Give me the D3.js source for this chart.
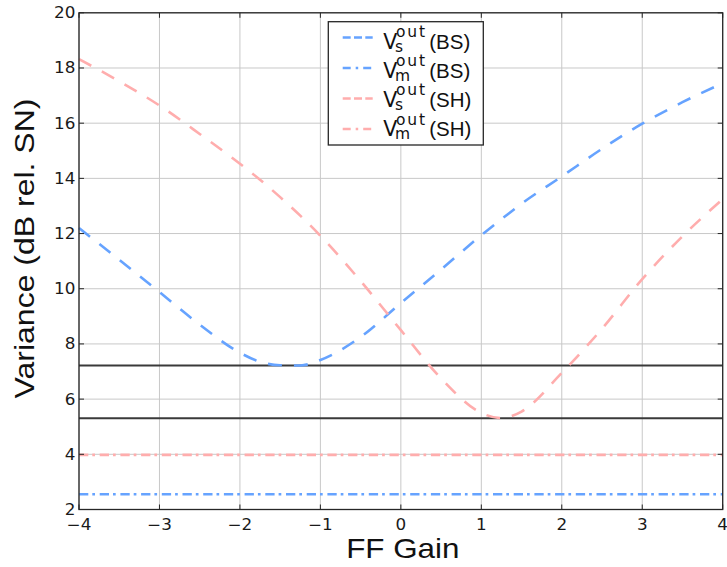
<!DOCTYPE html>
<html>
<head>
<meta charset="utf-8">
<script src="https://cdn.jsdelivr.net/npm/d3@7"></script>
<style>
body { margin: 0; background: #fff; }
svg { display: block; }
</style>
</head>
<body>
<div id="chart"></div>
<script>
// values
var gain = [-4, -3.5, -3, -2.5, -2, -1.75, -1.5, -1.25, -1, -0.5, 0, 0.5, 1, 1.25, 1.5, 2, 2.5, 3, 3.5, 4];
var vsBS = [12.2, 11.05, 9.88, 8.7, 7.68, 7.35, 7.23, 7.22, 7.42, 8.25, 9.48, 10.7, 11.94, 12.52, 13.08, 14.07, 15.07, 15.98, 16.76, 17.45];
var vsSH = [18.32, 17.52, 16.64, 15.61, 14.53, 13.95, 13.32, 12.65, 11.92, 10.28, 8.5, 6.75, 5.5, 5.31, 5.55, 6.95, 8.55, 10.35, 11.9, 13.25];
var vmBS = 2.55;
var vmSH = 3.98;
var minLevels = [7.22, 5.31];

var xTicks = [-4, -3, -2, -1, 0, 1, 2, 3, 4];
var yTicks = [2, 4, 6, 8, 10, 12, 14, 16, 18, 20];

var legendSubs = ["s", "m", "s", "m"];
var legendTags = ["(BS)", "(BS)", "(SH)", "(SH)"];

var width = 727,
	height = 567,
	LEFT = 79,
	RIGHT = 722.7,
	TOP = 12.8,
	BOTTOM = 509.5,
	BLUE = "#66a3ff",
	PINK = "#ffadad",
	DARK = "#262626",
	DASH = "14,12",
	DASHDOT = "9.3,4,2.7,4.7",
	WIDEN = 1.12;

var svg = d3.select("#chart").append("svg")
	.attr("width", width)
	.attr("height", height);

var x = d3.scaleLinear().domain([-4, 4]).range([LEFT, RIGHT]);
var y = d3.scaleLinear().domain([2, 20]).range([BOTTOM, TOP]);

// the figure's text is a bit wider than the fonts we have
var widen = function(sel, k) {
	sel.each(function() {
		var w = this.getComputedTextLength();
		this.setAttribute("textLength", w * k);
		this.setAttribute("lengthAdjust", "spacingAndGlyphs");
	});
};

// grid
var grid = svg.append("g").attr("id", "grid");

grid.selectAll(".vgrid")
	.data(xTicks)
	.enter()
	.append("line")
	.attr("x1", function(d) { return x(d); })
	.attr("x2", function(d) { return x(d); })
	.attr("y1", TOP)
	.attr("y2", BOTTOM)
	.style("stroke", "#c8c8c8")
	.style("stroke-width", 1);

grid.selectAll(".hgrid")
	.data(yTicks)
	.enter()
	.append("line")
	.attr("x1", LEFT)
	.attr("x2", RIGHT)
	.attr("y1", function(d) { return y(d); })
	.attr("y2", function(d) { return y(d); })
	.style("stroke", "#c8c8c8")
	.style("stroke-width", 1);

// minimum levels
svg.selectAll(".minlevel")
	.data(minLevels)
	.enter()
	.append("line")
	.attr("x1", LEFT)
	.attr("x2", RIGHT)
	.attr("y1", function(d) { return y(d); })
	.attr("y2", function(d) { return y(d); })
	.style("stroke", "#3a3a3a")
	.style("stroke-width", 2);

// flat measured-variance lines
var flat = [
	{ value: vmBS, color: BLUE },
	{ value: vmSH, color: PINK }
];

svg.selectAll(".flat")
	.data(flat)
	.enter()
	.append("line")
	.attr("x1", x(-4))
	.attr("x2", x(4))
	.attr("y1", function(d) { return y(d.value); })
	.attr("y2", function(d) { return y(d.value); })
	.style("stroke", function(d) { return d.color; })
	.style("stroke-width", 2.6)
	.style("stroke-dasharray", DASHDOT);

// the two swept curves
var line = d3.line()
	.x(function(d) { return x(d[0]); })
	.y(function(d) { return y(d[1]); })
	.curve(d3.curveMonotoneX);

var curves = [
	{ values: vsBS, color: BLUE },
	{ values: vsSH, color: PINK }
];

svg.selectAll(".curve")
	.data(curves)
	.enter()
	.append("path")
	.attr("d", function(d) { return line(d3.zip(gain, d.values)); })
	.style("fill", "none")
	.style("stroke", function(d) { return d.color; })
	.style("stroke-width", 2.6)
	.style("stroke-dasharray", DASH);

// frame
svg.append("rect")
	.attr("x", LEFT)
	.attr("y", TOP)
	.attr("width", RIGHT - LEFT)
	.attr("height", BOTTOM - TOP)
	.style("fill", "none")
	.style("stroke", DARK)
	.style("stroke-width", 1.3);

// inward ticks on all four sides
var ticks = svg.append("g").style("stroke", DARK).style("stroke-width", 1);

xTicks.forEach(function(t) {
	ticks.append("line").attr("x1", x(t)).attr("x2", x(t)).attr("y1", BOTTOM).attr("y2", BOTTOM - 5);
	ticks.append("line").attr("x1", x(t)).attr("x2", x(t)).attr("y1", TOP).attr("y2", TOP + 5);
});
yTicks.forEach(function(t) {
	ticks.append("line").attr("x1", LEFT).attr("x2", LEFT + 5).attr("y1", y(t)).attr("y2", y(t));
	ticks.append("line").attr("x1", RIGHT).attr("x2", RIGHT - 5).attr("y1", y(t)).attr("y2", y(t));
});

// tick labels
var fmt = function(d) { return d < 0 ? "\u2212" + Math.abs(d) : String(d); };

var xLabels = svg.selectAll(".xlabel")
	.data(xTicks)
	.enter()
	.append("text")
	.attr("x", function(d) { return x(d); })
	.attr("y", 529.5)
	.text(fmt)
	.style("font-family", "DejaVu Sans")
	.style("font-size", "15px")
	.style("fill", "#1a1a1a")
	.style("text-anchor", "middle");
widen(xLabels, WIDEN);

var yLabels = svg.selectAll(".ylabel")
	.data(yTicks)
	.enter()
	.append("text")
	.attr("x", 75.5)
	.attr("y", function(d) { return y(d) + 5.4; })
	.text(fmt)
	.style("font-family", "DejaVu Sans")
	.style("font-size", "15px")
	.style("fill", "#1a1a1a")
	.style("text-anchor", "end");
widen(yLabels, WIDEN);

// axis titles
var xTitle = svg.append("text")
	.attr("x", (LEFT + RIGHT) / 2 + 2)
	.attr("y", 558.3)
	.text("FF Gain")
	.style("font-family", "Liberation Sans, Arial")
	.style("font-size", "28px")
	.style("fill", "#111")
	.style("text-anchor", "middle");
widen(xTitle, WIDEN);

svg.append("text")
	.attr("transform", "translate(33.5,248.5) rotate(-90)")
	.attr("textLength", 300)
	.attr("lengthAdjust", "spacingAndGlyphs")
	.text("Variance (dB rel. SN)")
	.style("font-family", "Liberation Sans, Arial")
	.style("font-size", "28px")
	.style("fill", "#111")
	.style("text-anchor", "middle");

// legend
var legend = svg.append("g").attr("id", "legend");

legend.append("rect")
	.attr("x", 328.3)
	.attr("y", 21.7)
	.attr("width", 155)
	.attr("height", 123.3)
	.style("fill", "#fff")
	.style("stroke", DARK)
	.style("stroke-width", 1.3);

var entries = [
	{ color: BLUE, dash: "8,3.3" },
	{ color: BLUE, dash: "8,5,2.5,5" },
	{ color: PINK, dash: "8,3.3" },
	{ color: PINK, dash: "8,5,2.5,5" }
];

entries.forEach(function(e, i) {
	var hy = 37.5 + i * 30.5;
	var base = 48.5 + i * 29.2;

	legend.append("line")
		.attr("x1", 342.7)
		.attr("x2", 372.7)
		.attr("y1", hy)
		.attr("y2", hy)
		.style("stroke", e.color)
		.style("stroke-width", 2.6)
		.style("stroke-dasharray", e.dash);

	// V with superscript "out" and subscript, then the tag, all one text
	var label = legend.append("text")
		.attr("x", 383.3)
		.attr("y", base)
		.style("font-family", "DejaVu Sans")
		.style("font-size", "20.5px")
		.style("fill", "#111");

	label.append("tspan").text("V");

	label.append("tspan")
		.attr("x", 396)
		.attr("dy", -11.6)
		.style("font-size", "15.5px")
		.style("letter-spacing", "1.8px")
		.text("out");

	label.append("tspan")
		.attr("x", 395)
		.attr("dy", 14.8)
		.style("font-size", "15.5px")
		.text(legendSubs[i]);

	label.append("tspan")
		.attr("x", 429.3)
		.attr("dy", -3.2)
		.style("font-family", "Liberation Sans, Arial")
		.style("font-size", "20.5px")
		.text(legendTags[i]);
});
</script>
</body>
</html>
